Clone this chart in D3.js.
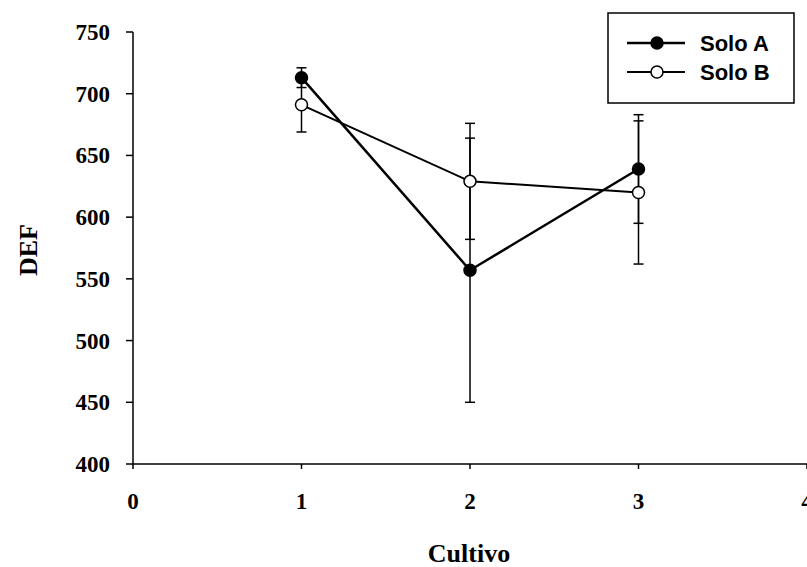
<!DOCTYPE html>
<html>
<head>
<meta charset="utf-8">
<script src="https://cdn.jsdelivr.net/npm/d3@7"></script>
<style>
  html, body { margin: 0; padding: 0; background: #fff; }
  svg { display: block; }
  .tick-lab { font-family: "Liberation Serif", "Times New Roman", serif; font-weight: bold; font-size: 23px; }
  .axis-title { font-family: "Liberation Serif", "Times New Roman", serif; font-weight: bold; font-size: 26px; }
  .leg { font-family: "Liberation Sans", Arial, sans-serif; font-weight: bold; font-size: 22px; }
</style>
</head>
<body>
<div id="chart"></div>
<script>
/* ---------- Dados ---------- */
const cultivos   = [1, 2, 3];
const soloA      = [713, 557, 639];
const soloAerr   = [8, 107, 44];
const soloB      = [691, 629, 620];
const soloBerr   = [22, 47, 58];
const xTicks     = [0, 1, 2, 3, 4];
const yTicks     = [400, 450, 500, 550, 600, 650, 700, 750];
const seriesNames = ['Solo A', 'Solo B'];

/* ---------- Área ---------- */
const W = 807, H = 567;
const svg = d3.select('#chart').append('svg')
  .attr('width', W).attr('height', H);

const x = d3.scaleLinear().domain([0, 4]).range([133, 807]);
const y = d3.scaleLinear().domain([400, 750]).range([464, 32]);

/* ---------- Eixos ---------- */
const axG = svg.append('g').attr('stroke', '#000').attr('stroke-width', 1.5);
axG.append('line').attr('x1', x(0)).attr('x2', x(0)).attr('y1', y(750)).attr('y2', y(400));
axG.append('line').attr('x1', x(0)).attr('x2', x(4)).attr('y1', y(400)).attr('y2', y(400));

axG.selectAll('.yt').data(yTicks).enter().append('line')
  .attr('x1', x(0) - 7).attr('x2', x(0))
  .attr('y1', d => y(d)).attr('y2', d => y(d));
axG.selectAll('.xt').data(xTicks).enter().append('line')
  .attr('x1', d => x(d)).attr('x2', d => x(d))
  .attr('y1', y(400)).attr('y2', y(400) + 5);

svg.selectAll('.ylab').data(yTicks).enter().append('text')
  .attr('class', 'tick-lab')
  .attr('x', 110).attr('y', d => y(d) + 8)
  .attr('text-anchor', 'end')
  .text(d => d);

svg.selectAll('.xlab').data(xTicks).enter().append('text')
  .attr('class', 'tick-lab')
  .attr('x', d => x(d)).attr('y', 509)
  .attr('text-anchor', 'middle')
  .text(d => d);

svg.append('text').attr('class', 'axis-title')
  .attr('x', 469).attr('y', 562)
  .attr('text-anchor', 'middle')
  .text('Cultivo');

svg.append('text').attr('class', 'axis-title')
  .attr('transform', 'translate(37,250) rotate(-90)')
  .attr('text-anchor', 'middle')
  .text('DEF');

/* ---------- Séries ---------- */
const series = [
  { name: seriesNames[0], vals: soloA, err: soloAerr, fill: '#000', lw: 2.5 },
  { name: seriesNames[1], vals: soloB, err: soloBerr, fill: '#fff', lw: 2 }
];

const line = d3.line().x(d => x(d[0])).y(d => y(d[1]));
const plotG = svg.append('g');

series.forEach(s => {
  const pts = cultivos.map((c, i) => [c, s.vals[i], s.err[i]]);
  // barras de erro
  pts.forEach(p => {
    const g = plotG.append('g').attr('stroke', '#000').attr('stroke-width', 1.5);
    g.append('line').attr('x1', x(p[0])).attr('x2', x(p[0]))
      .attr('y1', y(p[1] + p[2])).attr('y2', y(p[1] - p[2]));
    [p[1] + p[2], p[1] - p[2]].forEach(v => {
      g.append('line').attr('x1', x(p[0]) - 5).attr('x2', x(p[0]) + 5)
        .attr('y1', y(v)).attr('y2', y(v));
    });
  });
});

series.forEach(s => {
  const pts = cultivos.map((c, i) => [c, s.vals[i]]);
  plotG.append('path').datum(pts)
    .attr('d', line).attr('fill', 'none')
    .attr('stroke', '#000').attr('stroke-width', s.lw);
});

series.forEach(s => {
  const pts = cultivos.map((c, i) => [c, s.vals[i]]);
  plotG.selectAll(null).data(pts).enter().append('circle')
    .attr('cx', d => x(d[0])).attr('cy', d => y(d[1]))
    .attr('r', 6).attr('fill', s.fill)
    .attr('stroke', '#000').attr('stroke-width', 1.5);
});

/* ---------- Legenda ---------- */
const leg = svg.append('g');
leg.append('rect').attr('x', 608).attr('y', 13).attr('width', 186).attr('height', 90)
  .attr('fill', '#fff').attr('stroke', '#000').attr('stroke-width', 1.5);
series.forEach((s, i) => {
  const ly = 43 + i * 29;
  leg.append('line').attr('x1', 627).attr('x2', 685).attr('y1', ly).attr('y2', ly)
    .attr('stroke', '#000').attr('stroke-width', s.lw);
  leg.append('circle').attr('cx', 657).attr('cy', ly).attr('r', 6)
    .attr('fill', s.fill).attr('stroke', '#000').attr('stroke-width', 1.5);
  leg.append('text').attr('class', 'leg')
    .attr('x', 700).attr('y', ly + 8)
    .text(s.name);
});
</script>
</body>
</html>
